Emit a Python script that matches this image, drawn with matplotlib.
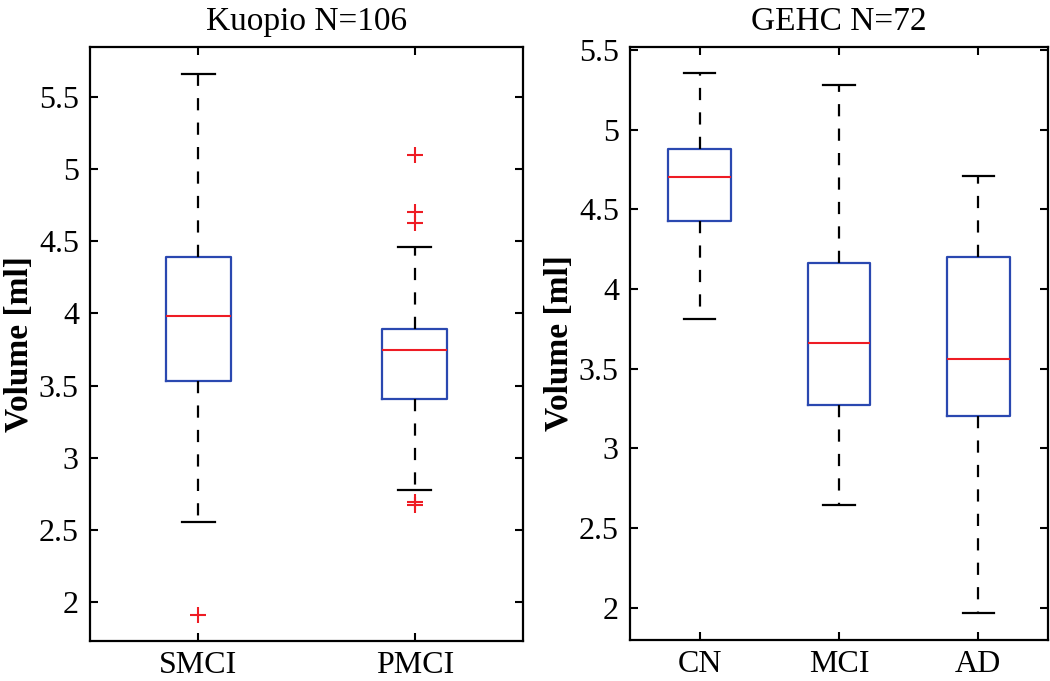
import matplotlib
matplotlib.use("Agg")
import matplotlib.pyplot as plt

plt.rcParams['font.family'] = ['Liberation Serif', 'DejaVu Serif']

# Kuopio data (box stats)
k_labels = ["SMCI", "PMCI"]
k_whislo = [2.555, 2.777]
k_q1 = [3.534, 3.407]
k_med = [3.982, 3.747]
k_q3 = [4.389, 3.892]
k_whishi = [5.660, 4.463]
k_fliers = [[1.91], [5.098, 4.705, 4.625, 2.69, 2.67]]

# GEHC data
g_labels = ["CN", "MCI", "AD"]
g_whislo = [3.811, 2.644, 1.964]
g_q1 = [4.427, 3.271, 3.204]
g_med = [4.705, 3.659, 3.560]
g_q3 = [4.879, 4.161, 4.203]
g_whishi = [5.357, 5.278, 4.710]
g_fliers = [[], [], []]

yticks = [2, 2.5, 3, 3.5, 4, 4.5, 5, 5.5]
yticklabels = ["2", "2.5", "3", "3.5", "4", "4.5", "5", "5.5"]

BLUE = '#2a48b0'
RED = '#ee1c24'

fig = plt.figure(figsize=(10.5, 6.81), dpi=100)
ax1 = fig.add_axes([90/1050, 40/681, 433/1050, 594/681])
ax2 = fig.add_axes([630/1050, 41/681, 418/1050, 593/681])


def make_stats(labels, lo, q1, med, q3, hi, fl):
    return [dict(label=l, whislo=a, q1=b, med=c, q3=d, whishi=e, fliers=f)
            for l, a, b, c, d, e, f in zip(labels, lo, q1, med, q3, hi, fl)]


def draw(ax, stats, width, capw, ylim, title):
    n = len(stats)
    ax.bxp(stats, positions=list(range(1, n + 1)), widths=width,
           capwidths=capw, showfliers=True,
           boxprops=dict(color=BLUE, linewidth=1.6),
           medianprops=dict(color=RED, linewidth=1.5),
           whiskerprops=dict(color='black', linewidth=1.6, linestyle=(0, (5.5, 5.5))),
           capprops=dict(color='black', linewidth=1.6),
           flierprops=dict(marker='+', markeredgecolor=RED, markersize=11,
                           markeredgewidth=1.5, linestyle='none'))
    ax.set_xlim(0.5, n + 0.5)
    ax.set_ylim(*ylim)
    ax.set_yticks(yticks)
    ax.set_yticklabels(yticklabels)
    ax.set_xticks(list(range(1, n + 1)))
    ax.set_xticklabels([s['label'] for s in stats])
    ax.tick_params(axis='both', direction='in', length=6, width=1.5,
                   top=True, right=True)
    ax.tick_params(axis='y', labelsize=23, pad=8)
    ax.tick_params(axis='x', labelsize=23, pad=7)
    for sp in ax.spines.values():
        sp.set_linewidth(1.6)
    ax.set_ylabel("Volume [ml]", fontsize=24, fontweight='bold', labelpad=3)
    ax.set_title(title, fontsize=24, pad=12)


draw(ax1, make_stats(k_labels, k_whislo, k_q1, k_med, k_q3, k_whishi, k_fliers),
     0.30, 0.153, (1.730, 5.846), "Kuopio N=106")
draw(ax2, make_stats(g_labels, g_whislo, g_q1, g_med, g_q3, g_whishi, g_fliers),
     0.45, 0.225, (1.797, 5.519), "GEHC N=72")

fig.savefig("out.png", dpi=100)
